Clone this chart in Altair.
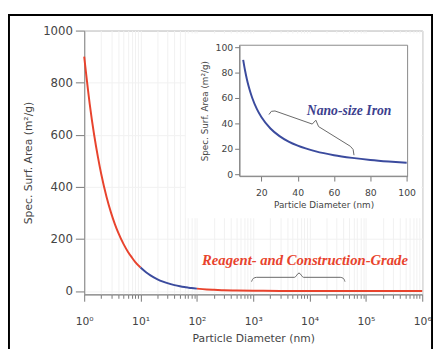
import altair as alt
import pandas as pd

# ---------------- data ----------------
# main curve (log x): three coloured pieces
red1_d = [1, 1.25, 1.5, 1.75, 2, 2.5, 3, 3.5, 4, 5, 6, 7, 8, 10]
red1_sa = [900, 720, 600, 515, 450, 360, 300, 257, 225, 180, 150, 129, 112, 90]
blue_d = [10, 12.5, 15, 20, 25, 30, 40, 50, 60, 70, 80, 100]
blue_sa = [90, 72, 60, 45, 36, 30, 22.5, 18, 15, 12.9, 11.2, 9]
red2_d = [100, 150, 200, 300, 500, 1000, 3000, 10000, 100000, 1000000]
red2_sa = [9, 6, 4.5, 3, 1.8, 0.9, 0.3, 0.09, 0.009, 0.0009]

# inset curve (linear x)
inset_d = [10, 11, 12, 13, 14, 15, 17.5, 20, 25, 30, 35, 40, 50, 60, 70, 80, 90, 100]
inset_sa = [90, 81.8, 75, 69.2, 64.3, 60, 51.4, 45, 36, 30, 25.7, 22.5, 18, 15, 12.9, 11.25, 10, 9]

# annotation braces (data coordinates)
brace_main_d = [934, 1000, 1150, 5400, 6500, 7800, 35000, 40000, 42500]
brace_main_sa = [36, 48, 52.5, 52.5, 69, 52.5, 52.5, 48, 36]
brace_in_d = [24.2, 25.5, 27.5, 48, 50, 51.5, 69, 70.5, 71]
brace_in_sa = [47, 49.5, 49.8, 39.5, 42.5, 37.5, 22, 19.5, 15]

main_label = "Reagent- and Construction-Grade"
inset_label = "Nano-size Iron"

y_ticks = [0, 200, 400, 600, 800, 1000]
x_minor = [m * 10 ** k for k in range(6) for m in range(1, 10)] + [10 ** 6]
inset_x_ticks = [20, 40, 60, 80, 100]
inset_y_ticks = [0, 20, 40, 60, 80, 100]

RED = "#e8432d"
BLUE = "#3b4b9e"
NAVY = "#3c3f8e"
AX = "#888888"
GRID = "#f1f1f1"

# ---------------- tables ----------------
rows = []
for seg, ds, vs in [("a", red1_d, red1_sa), ("b", blue_d, blue_sa), ("c", red2_d, red2_sa)]:
    for d, v in zip(ds, vs):
        rows.append({"d": d, "sa": v, "seg": seg})
main_df = pd.DataFrame(rows)
inset_df = pd.DataFrame({"d": inset_d, "sa": inset_sa})
brace_main_df = pd.DataFrame({"d": brace_main_d, "sa": brace_main_sa, "i": list(range(len(brace_main_d)))})
brace_in_df = pd.DataFrame({"d": brace_in_d, "sa": brace_in_sa, "i": list(range(len(brace_in_d)))})
main_text_df = pd.DataFrame({"d": [8300], "sa": [100], "t": [main_label]})
inset_text_df = pd.DataFrame({"d": [68.3], "sa": [47], "t": [inset_label]})
one = pd.DataFrame({"k": [0]})

dec = "abs(log(datum.value)/LN10 - round(log(datum.value)/LN10)) < 0.01"
sup = "['\u2070','\u00b9','\u00b2','\u00b3','\u2074','\u2075','\u2076']"

x_main = alt.X(
    "d:Q",
    scale=alt.Scale(type="log", domain=[1, 1000000], nice=False),
    axis=alt.Axis(
        values=x_minor,
        title="Particle Diameter (nm)",
        labelExpr=f"{dec} ? '10' + {sup}[round(log(datum.value)/LN10)] : ''",
        labelOverlap=False,
        labelFlush=False,
        tickSize={"condition": {"test": dec, "value": 7}, "value": 4},
        labelPadding=15,
        labelFontSize=11,
        titleFontSize=11,
        titlePadding=6,
        grid=True,
        gridColor=GRID,
        zindex=0,
    ),
)
y_main = alt.Y(
    "sa:Q",
    scale=alt.Scale(domain=[-13, 1000], nice=False, zero=False),
    axis=alt.Axis(
        values=y_ticks,
        format="d",
        title="Spec. Surf. Area (m\u00b2/g)",
        tickSize=9,
        labelPadding=3,
        labelFontSize=12,
        titleFontSize=11,
        titlePadding=9,
        grid=True,
        gridColor=GRID,
        zindex=0,
    ),
)

curve = alt.Chart(main_df).mark_line(strokeWidth=2, interpolate="monotone").encode(
    x=x_main,
    y=y_main,
    color=alt.Color("seg:N", scale=alt.Scale(domain=["a", "b", "c"], range=[RED, BLUE, RED]), legend=None),
)
brace_main = alt.Chart(brace_main_df).mark_line(color="#666666", strokeWidth=1, interpolate="monotone").encode(
    x=x_main, y=y_main, order="i:Q"
)
text_main = alt.Chart(main_text_df).mark_text(
    font="Liberation Serif", fontStyle="italic", fontWeight="bold", fontSize=15,
    color=RED, align="center", baseline="alphabetic",
).encode(x=x_main, y=y_main, text="t:N")

main_layer = alt.layer(curve, brace_main, text_main)

# ---------------- inset ----------------
x_in = alt.X(
    "d:Q",
    scale=alt.Scale(domain=[8, 100.5], range=[159, 331], nice=False, zero=False),
    axis=alt.Axis(
        orient="bottom", offset=-121, values=inset_x_ticks, title="Particle Diameter (nm)",
        tickSize=5, labelPadding=7, labelFontSize=9.5, titleFontSize=9, titlePadding=4,
        labelFlush=False, grid=False, zindex=1,
    ),
)
y_in = alt.Y(
    "sa:Q",
    scale=alt.Scale(domain=[-1.5, 101.5], range=[149, 15], nice=False, zero=False),
    axis=alt.Axis(
        orient="left", offset=-159, values=inset_y_ticks, title="Spec. Surf. Area (m\u00b2/g)",
        tickSize=5, labelPadding=2, labelFontSize=9.5, titleFontSize=9, titlePadding=6,
        labelFlush=False, grid=False, zindex=1,
    ),
)

white_box = alt.Chart(one).mark_rect(fill="white").encode(
    x=alt.value(104), x2=alt.value(345), y=alt.value(3), y2=alt.value(192)
)
inset_frame = alt.Chart(one).mark_rect(fillOpacity=0, stroke=AX, strokeWidth=1).encode(
    x=alt.value(159), x2=alt.value(331), y=alt.value(15), y2=alt.value(149)
)
inset_curve = alt.Chart(inset_df).mark_line(color=BLUE, strokeWidth=2, interpolate="monotone").encode(
    x=x_in, y=y_in
)
brace_in = alt.Chart(brace_in_df).mark_line(color="#666666", strokeWidth=1).encode(
    x=x_in, y=y_in, order="i:Q"
)
text_in = alt.Chart(inset_text_df).mark_text(
    font="Liberation Serif", fontStyle="italic", fontWeight="bold", fontSize=14,
    color=NAVY, align="center", baseline="alphabetic",
).encode(x=x_in, y=y_in, text="t:N")

inset_layer = alt.layer(white_box, inset_frame, inset_curve, brace_in, text_in)

frame = alt.Chart(one).mark_rect(fillOpacity=0, stroke="black", strokeWidth=2).encode(
    x=alt.value(-77), x2=alt.value(356), y=alt.value(-16), y2=alt.value(330)
)

chart = (
    alt.layer(frame, main_layer, inset_layer)
    .resolve_scale(x="independent", y="independent")
    .properties(width=346, height=270, padding={"left": 0, "top": 2, "right": 0, "bottom": 0})
    .configure_view(stroke=AX, strokeWidth=1)
    .configure_axis(
        labelFont="DejaVu Sans", titleFont="DejaVu Sans", titleFontWeight="normal",
        labelColor="#444444", titleColor="#444444", domainColor=AX, tickColor="#777777",
    )
)

chart.save("out.html", embed_options={"renderer": "svg", "actions": False})
